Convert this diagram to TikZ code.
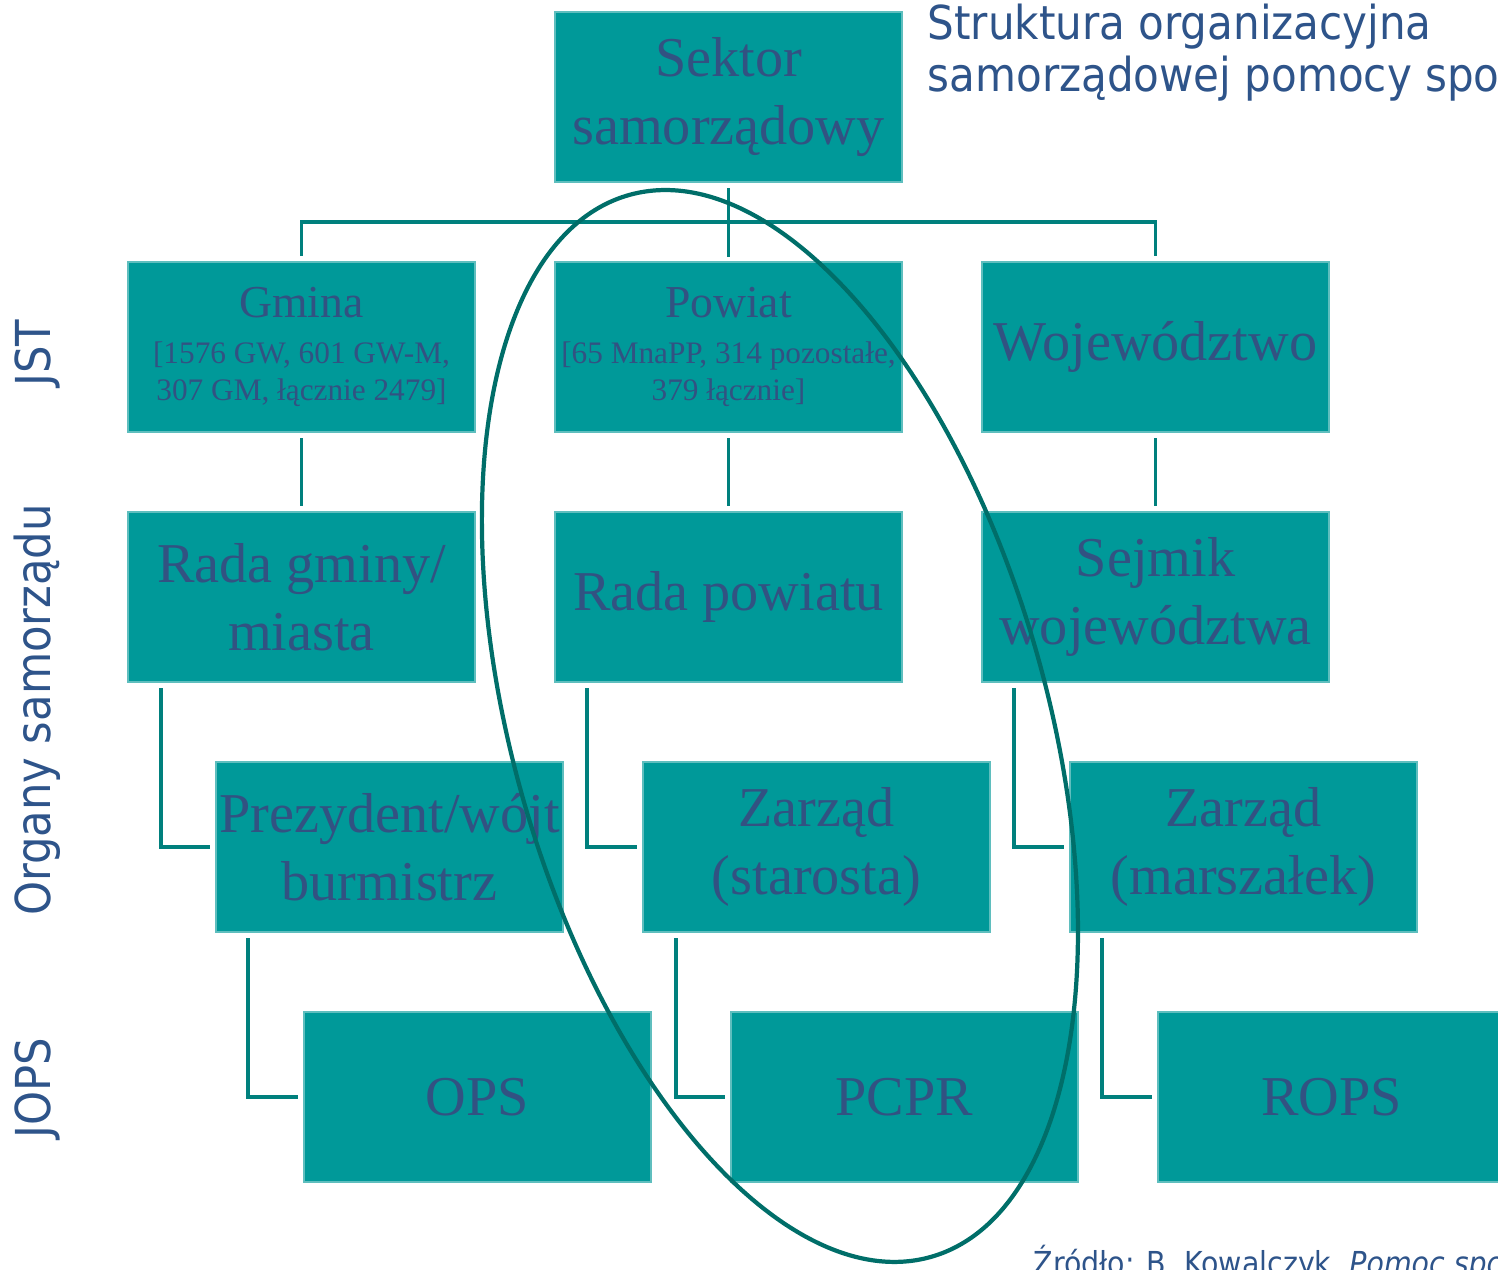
\documentclass[tikz,border=0pt]{standalone}
\usepackage{fontspec}
\setmainfont{Liberation Serif}
\newfontfamily\sidefont{DejaVu Sans Condensed}
\usetikzlibrary{positioning}
\definecolor{boxfill}{RGB}{0,153,153}
\definecolor{boxedge}{RGB}{95,190,190}
\definecolor{boxtext}{RGB}{50,82,130}
\definecolor{linkcol}{RGB}{0,128,125}
\definecolor{ringcol}{RGB}{0,110,105}
\definecolor{titlecol}{RGB}{46,84,138}
\tikzset{org node/.style={rectangle,fill=boxfill,draw=boxedge,line width=0.4pt,minimum width=3.47cm,minimum height=1.70cm,inner sep=0pt,outer sep=0pt,align=center,text=boxtext,font=\fontsize{16}{19.4}\selectfont},
         count node/.style={org node,font=\fontsize{8.9}{10.6}\selectfont},
         link/.style={draw=linkcol,line width=1.1pt},
         side label/.style={rotate=90,text=titlecol,font=\sidefont\fontsize{13.7}{16}\selectfont},
            }
\newcommand\bigline{\fontsize{13}{10.6}\selectfont}
\newcommand\smallline{\fontsize{8.9}{10.6}\selectfont}

\begin{document}
\begin{tikzpicture}
\useasboundingbox (0,0) rectangle (14.98,-12.69);
 \node[org node] (sektor) at (7.285,-0.97) {Sektor\\samorządowy};
\node[count node] (powiat)[below=0.8cm of sektor] {\bigline Powiat\\[2.5pt] \smallline {[}65 MnaPP, 314 pozostałe,\\ \smallline 379 łącznie{]}};
 \node[count node] (gmina)[left=0.8cm of powiat] {\bigline Gmina\\[2.5pt] \smallline {[}1576 GW, 601 GW-M,\\ \smallline 307 GM, łącznie 2479{]}};
 \node[org node] (woj)[right=0.8cm of powiat] {Województwo};
    \node[org node] (radag)[below=0.8cm of gmina] {Rada gminy/\\miasta};
    \node[org node] (radap)[below=0.8cm of powiat] {Rada powiatu};
    \node[org node] (sejmik)[below=0.8cm of woj] {Sejmik\\województwa};
        \node[org node] (prez)[below=0.8cm of radag, xshift=0.88cm] {Prezydent/wójt\\burmistrz};
        \node[org node] (star)[below=0.8cm of radap, xshift=0.88cm] {Zarząd\\(starosta)};
        \node[org node] (marsz)[below=0.8cm of sejmik, xshift=0.88cm] {Zarząd\\(marszałek)};
            \node[org node] (ops)[below=0.8cm of prez, xshift=0.88cm] {OPS};
            \node[org node] (pcpr)[below=0.8cm of star, xshift=0.88cm] {PCPR};
            \node[org node] (rops)[below=0.8cm of marsz, xshift=0.88cm] {ROPS};

    % side labels and title
    \node[side label] (jst) at (0.37,-3.53) {JST};
    \node[side label] (organy) at (0.37,-7.10) {Organy samorządu};
    \node[side label] (jops) at (0.37,-10.88) {JOPS};
    \node[anchor=north west,align=left,inner sep=0pt,text=titlecol,font=\sidefont\fontsize{13.3}{15}\selectfont] (title) at (9.27,-0.03) {Struktura organizacyjna\\samorządowej pomocy spo};
    \node[anchor=base west,inner sep=0pt,text=titlecol,font=\sidefont\fontsize{9}{10}\selectfont] (zrodlo) at (10.33,-12.74) {Źródło: B. Kowalczyk, \textit{Pomoc spo}};

    \coordinate (bus) at ([yshift=0.4cm]powiat.north);
    \path[link]
        ([yshift=-0.06cm]sektor.south) edge ([yshift=0.05cm]powiat.north);
    \path[link]
        ([yshift=0.06cm]gmina.north) |- (bus) -| ([yshift=0.06cm]woj.north);
    \path[link]
        ([yshift=-0.06cm]gmina.south) edge ([yshift=0.06cm]radag.north);
    \path[link]
        ([yshift=-0.06cm]powiat.south) edge ([yshift=0.06cm]radap.north);
    \path[link]
        ([yshift=-0.06cm]woj.south) edge ([yshift=0.06cm]sejmik.north);
    \path[link]
        ([shift={(0.33,-0.06)}]radag.south west) |- ([xshift=-0.06cm]prez.west);
    \path[link]
        ([shift={(0.32,-0.06)}]radap.south west) |- ([xshift=-0.06cm]star.west);
    \path[link]
        ([shift={(0.32,-0.06)}]sejmik.south west) |- ([xshift=-0.06cm]marsz.west);
    \path[link]
        ([shift={(0.32,-0.06)}]prez.south west) |- ([xshift=-0.06cm]ops.west);
    \path[link]
        ([shift={(0.33,-0.06)}]star.south west) |- ([xshift=-0.06cm]pcpr.west);
    \path[link]
        ([shift={(0.32,-0.06)}]marsz.south west) |- ([xshift=-0.06cm]rops.west);

    % ring round the powiat column
    \coordinate (ringc) at (7.80,-7.26);
    \draw[ringcol,line width=1.2pt,rotate around={15.9:(ringc)}] (ringc) ellipse [x radius=2.67cm, y radius=5.52cm];
\end{tikzpicture}
\end{document}
